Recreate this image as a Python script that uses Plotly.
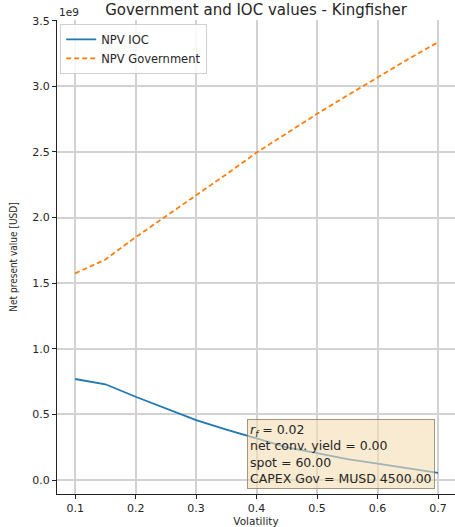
import plotly.graph_objects as go

# Volatility grid and NPV results (values in units of 1e9 USD)
volatility = [0.10, 0.15, 0.20, 0.25, 0.30, 0.35, 0.40, 0.45, 0.50, 0.55, 0.60, 0.65, 0.70]
npv_ioc = [0.770, 0.730, 0.635, 0.545, 0.457, 0.385, 0.315, 0.250, 0.205, 0.160, 0.125, 0.088, 0.055]
npv_gov = [1.575, 1.680, 1.850, 2.010, 2.165, 2.330, 2.495, 2.645, 2.790, 2.930, 3.070, 3.205, 3.336]

x_ticks = [0.1, 0.2, 0.3, 0.4, 0.5, 0.6, 0.7]
y_ticks = [0.0, 0.5, 1.0, 1.5, 2.0, 2.5, 3.0, 3.5]

FONT = "DejaVu Sans"
TXT = "#262626"

fig = go.Figure()
fig.add_trace(go.Scatter(
    x=volatility, y=npv_ioc, mode="lines", name="NPV IOC",
    line=dict(color="#1f77b4", width=1.8),
))
fig.add_trace(go.Scatter(
    x=volatility, y=npv_gov, mode="lines", name="NPV Government",
    line=dict(color="#ff7f0e", width=1.8, dash="5px,3px"),
))

axis_common = dict(
    showline=True, linecolor="#222222", linewidth=1.2, mirror=False,
    ticks="outside", ticklen=4, tickwidth=1, tickcolor="#222222",
    showgrid=True, gridcolor="#d2d2d2", gridwidth=1.5,
    zeroline=False, tickfont=dict(family=FONT, size=11, color=TXT),
)

fig.update_layout(
    width=455, height=527,
    margin=dict(l=57, r=0, t=20, b=31),
    paper_bgcolor="white", plot_bgcolor="white",
    title=dict(
        text="Government and IOC values - Kingfisher",
        x=(57 + 455) / 2 / 455, xanchor="center", y=1 - 10 / 527, yanchor="middle",
        font=dict(family=FONT, size=15, color=TXT),
    ),
    xaxis=dict(
        range=[0.07, 0.728], tickvals=x_ticks, ticktext=[f"{v:.1f}" for v in x_ticks],
        ticklabelstandoff=0,
        title=dict(text="Volatility", font=dict(family=FONT, size=10.5, color=TXT), standoff=4),
        **axis_common,
    ),
    yaxis=dict(
        range=[-0.106, 3.505], tickvals=y_ticks, ticktext=[f"{v:.1f}" for v in y_ticks],
        title=dict(text="Net present value [USD]",
                   font=dict(family="DejaVu Sans Condensed, Liberation Sans Narrow, DejaVu Sans", size=10, color=TXT),
                   standoff=12),
        **axis_common,
    ),
    legend=dict(
        x=0.008, y=0.992, xanchor="left", yanchor="top",
        bgcolor="rgba(255,255,255,0.85)", bordercolor="#d0d0d0", borderwidth=1,
        font=dict(family=FONT, size=11.5, color=TXT),
        tracegroupgap=0, itemwidth=30,
    ),
    showlegend=True,
)

# Offset-text multiplier for the y axis
fig.add_annotation(
    text="1e9", xref="paper", yref="paper", x=0.0, y=1.0,
    xanchor="left", yanchor="bottom", showarrow=False,
    font=dict(family=FONT, size=10.5, color=TXT),
)

# Parameter box
fig.add_annotation(
    text=("<i>r<sub>f</sub></i> = 0.02<br>net conv. yield = 0.00<br>"
          "spot = 60.00<br>CAPEX Gov = MUSD 4500.00"),
    xref="paper", yref="paper", x=(247 - 57) / 398, y=(496 - 421) / 476,
    xanchor="left", yanchor="top", align="left", showarrow=False,
    bgcolor="rgba(245,222,179,0.6)", bordercolor="rgba(140,125,100,0.8)",
    borderwidth=1, borderpad=2,
    font=dict(family=FONT, size=12.5, color=TXT),
)

fig.write_html("out.html")
